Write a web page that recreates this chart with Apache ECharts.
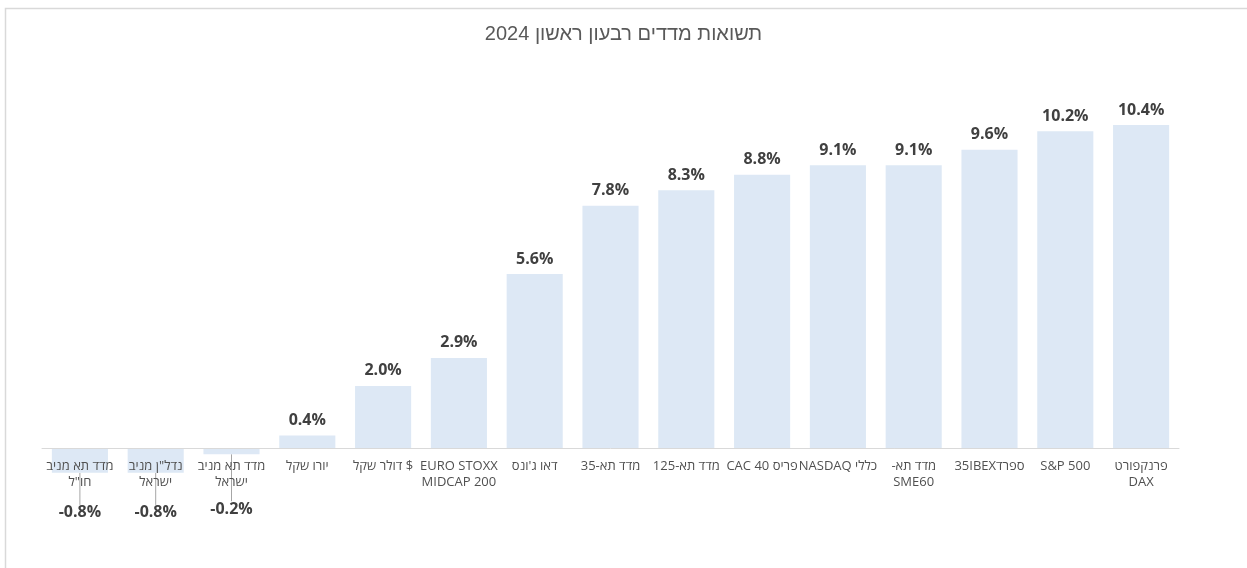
<!DOCTYPE html>
<html>
<head>
<meta charset="utf-8">
<script src="https://cdn.jsdelivr.net/npm/echarts@6/dist/echarts.min.js"></script>
<style>
html,body{margin:0;padding:0;background:#fff;}
#c{width:1247px;height:568px;}
</style>
</head>
<body>
<div id="c"></div>
<script>
const titleText = 'תשואות מדדים רבעון ראשון 2024';
const categories = [
  'מדד תא מניב\nחו"ל',
  'נדל"ן מניב\nישראל',
  'מדד תא מניב\nישראל',
  'יורו שקל',
  '$ דולר שקל',
  'EURO STOXX\nMIDCAP 200',
  'דאו ג\'ונס',
  'מדד תא-35',
  'מדד תא-125',
  'פריס CAC 40',
  'כללי NASDAQ',
  'מדד תא-\nSME60',
  'ספרד35IBEX',
  'S&P 500',
  'פרנקפורט\nDAX'
];
const values = [-0.8, -0.8, -0.2, 0.4, 2.0, 2.9, 5.6, 7.8, 8.3, 8.8, 9.1, 9.1, 9.6, 10.2, 10.4];

// render each line in right-to-left embedding, as in the original
const rtl = s => s.split('\n').map(l => '\u202B' + l + '\u202C').join('\n');

const barData = values.map(v => v < 0
  ? {value: v, label: {position: 'bottom', distance: 5}, labelLine: {show: true}}
  : {value: v, labelLine: {show: false}});

const chart = echarts.init(document.getElementById('c'));
chart.setOption({
  animation: false,
  backgroundColor: '#fff',
  title: {
    text: titleText,
    left: 'center',
    top: 19,
    textStyle: {fontFamily: 'Arial, "Liberation Sans", sans-serif', fontSize: 20, fontWeight: 'normal', color: '#595959'}
  },
  graphic: [{
    type: 'rect',
    shape: {x: 5.5, y: 8.5, width: 1260, height: 600},
    style: {fill: 'none', stroke: '#d9d9d9', lineWidth: 1.5},
    silent: true, z: -1
  }],
  grid: {left: 42, right: 68, top: 75.3, bottom: 120, containLabel: false},
  xAxis: {
    type: 'category',
    data: categories.map(rtl),
    z: 5,
    axisLine: {lineStyle: {color: '#d9d9d9', width: 1}},
    axisTick: {show: false},
    axisLabel: {
      interval: 0,
      color: '#505050',
      fontSize: 13,
      fontFamily: '"Open Sans", "Noto Sans", Arial, sans-serif',
      lineHeight: 16,
      margin: 10
    }
  },
  yAxis: {
    type: 'value',
    min: 0, max: 12,
    show: false,
    splitLine: {show: false}
  },
  series: [{
    type: 'bar',
    data: barData,
    clip: false,
    z: 2,
    barWidth: '74%',
    itemStyle: {color: '#dde8f5'},
    label: {
      show: true,
      position: 'top',
      distance: 7,
      formatter: p => p.value.toFixed(1) + '%',
      color: '#404040',
      fontSize: 16,
      fontWeight: 'bold',
      fontFamily: '"Open Sans", Arial, sans-serif'
    },
    labelLine: {lineStyle: {color: '#a6a6a6', width: 1}},
    labelLayout: function (params) {
      const v = values[params.dataIndex];
      if (v < 0) {
        return {dy: v < -0.5 ? 27 : 42};
      }
      return {};
    }
  }]
});
</script>
</body>
</html>
